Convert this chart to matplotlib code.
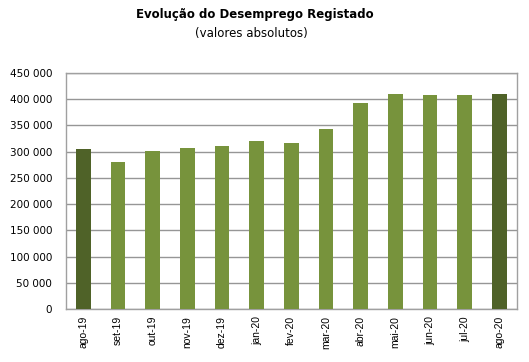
import matplotlib
matplotlib.use('Agg')
import matplotlib.pyplot as plt
from matplotlib.ticker import FuncFormatter

MONTHS = ['ago-19', 'set-19', 'out-19', 'nov-19', 'dez-19', 'jan-20', 'fev-20',
          'mar-20', 'abr-20', 'mai-20', 'jun-20', 'jul-20', 'ago-20']
UNEMPLOYED = [304500, 281000, 302000, 307000, 311500, 321000, 316000,
              344000, 393500, 410500, 408000, 408000, 410500]
HIGHLIGHT = ['ago-19', 'ago-20']

LIGHT = '#77933C'
DARK = '#4F6228'

plt.rcParams['font.family'] = ['DejaVu Sans']

fig = plt.figure(figsize=(5.29, 3.62), dpi=100, facecolor='white')
ax = fig.add_axes([0.1248, 0.1464, 0.852, 0.652])

colors = [DARK if m in HIGHLIGHT else LIGHT for m in MONTHS]
x = range(len(MONTHS))
ax.bar(x, UNEMPLOYED, width=0.42, color=colors, zorder=3)

ax.set_xlim(-0.5, len(MONTHS) - 0.5)
ax.set_ylim(0, 450000)
ax.set_yticks(range(0, 450001, 50000))
ax.yaxis.set_major_formatter(FuncFormatter(lambda v, p: f'{int(v):,}'.replace(',', ' ')))
ax.set_xticks(list(x))
ax.set_xticklabels(MONTHS, rotation=90, fontsize=7.5, family='Liberation Sans')
ax.tick_params(axis='y', labelsize=7.5, length=0, pad=10)
ax.tick_params(axis='x', length=0, pad=5)

ax.grid(axis='y', color='#969696', linewidth=1, zorder=0)
for spine in ax.spines.values():
    spine.set_color('#a0a0a0')
    spine.set_linewidth(1)

fig.text(0.482, 0.961, 'Evolução do Desemprego Registado', ha='center', va='center',
         fontsize=8.5, fontweight='bold')
fig.text(0.475, 0.908, '(valores absolutos)', ha='center', va='center', fontsize=8.5)

plt.savefig('out.png', dpi=100, facecolor='white')
